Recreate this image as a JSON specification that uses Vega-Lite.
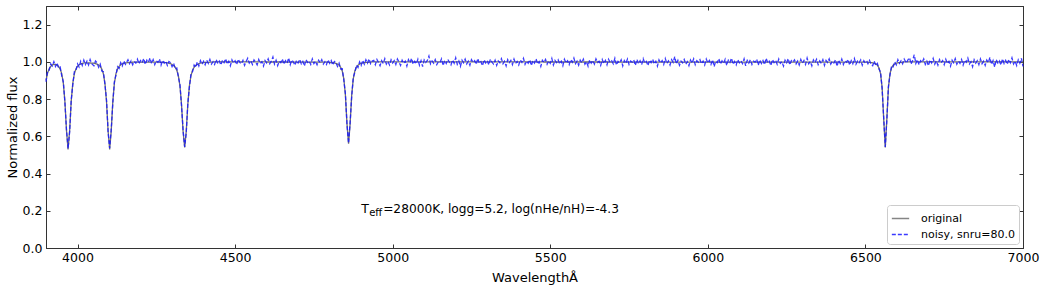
{
"$schema": "https://vega.github.io/schema/vega-lite/v6.json",
"width": 977, "height": 242,
"autosize": {"type": "none"},
"padding": {"left": 46, "top": 6, "right": 23, "bottom": 42},
"background": "white",
"config": {"view": {"stroke": "#333333", "strokeWidth": 1}, "font": "DejaVu Sans"},
"data": {"values": [
{"w":3900,"original":0.9,"noisy":0.893},{"w":3905,"original":0.94,"noisy":0.951},{"w":3910,"original":0.962,"noisy":0.955},{"w":3915,"original":0.976,"noisy":0.989},{"w":3920,"original":0.984,"noisy":0.978},
{"w":3925,"original":0.987,"noisy":1.001},{"w":3930,"original":0.986,"noisy":0.975},{"w":3935,"original":0.982,"noisy":0.994},{"w":3940,"original":0.975,"noisy":0.968},{"w":3945,"original":0.961,"noisy":0.972},
{"w":3950,"original":0.936,"noisy":0.925},{"w":3955,"original":0.885,"noisy":0.893},{"w":3960,"original":0.787,"noisy":0.781},{"w":3965,"original":0.63,"noisy":0.636},{"w":3970,"original":0.53,"noisy":0.534},
{"w":3975,"original":0.63,"noisy":0.624},{"w":3980,"original":0.787,"noisy":0.795},{"w":3985,"original":0.885,"noisy":0.877},{"w":3990,"original":0.936,"noisy":0.948},{"w":3995,"original":0.962,"noisy":0.953},
{"w":4000,"original":0.976,"noisy":0.989},{"w":4005,"original":0.984,"noisy":0.972},{"w":4010,"original":0.989,"noisy":1.003},{"w":4015,"original":0.992,"noisy":0.981},{"w":4020,"original":0.994,"noisy":1.009},
{"w":4025,"original":0.995,"noisy":0.986},{"w":4030,"original":0.995,"noisy":1.004},{"w":4035,"original":0.995,"noisy":0.983},{"w":4040,"original":0.994,"noisy":1.012},{"w":4045,"original":0.993,"noisy":0.99},
{"w":4052,"original":0.9925,"noisy":0.979},{"w":4057,"original":0.991,"noisy":1.004},{"w":4062,"original":0.988,"noisy":0.995},{"w":4067,"original":0.983,"noisy":0.971},{"w":4072,"original":0.976,"noisy":0.988},
{"w":4077,"original":0.962,"noisy":0.951},{"w":4082,"original":0.936,"noisy":0.947},{"w":4087,"original":0.885,"noisy":0.879},{"w":4092,"original":0.787,"noisy":0.796},{"w":4097,"original":0.63,"noisy":0.624},
{"w":4102,"original":0.53,"noisy":0.536},{"w":4107,"original":0.63,"noisy":0.637},{"w":4112,"original":0.787,"noisy":0.779},{"w":4117,"original":0.885,"noisy":0.894},{"w":4122,"original":0.936,"noisy":0.929},
{"w":4127,"original":0.962,"noisy":0.974},{"w":4132,"original":0.976,"noisy":0.965},{"w":4137,"original":0.984,"noisy":0.996},{"w":4142,"original":0.989,"noisy":0.978},{"w":4147,"original":0.992,"noisy":1.005},
{"w":4152,"original":0.994,"noisy":0.987},{"w":4160,"original":0.996,"noisy":1.011},{"w":4165,"original":0.9965,"noisy":0.99},{"w":4170,"original":0.9975,"noisy":1.006},{"w":4175,"original":0.998,"noisy":0.984},
{"w":4180,"original":0.998,"noisy":1.002},{"w":4185,"original":0.9985,"noisy":0.993},{"w":4190,"original":0.9985,"noisy":1.014},{"w":4195,"original":0.999,"noisy":0.989},{"w":4200,"original":0.999,"noisy":1.007},
{"w":4205,"original":0.999,"noisy":0.995},{"w":4210,"original":0.999,"noisy":1.018},{"w":4215,"original":0.999,"noisy":0.986},{"w":4220,"original":0.999,"noisy":1.009},{"w":4225,"original":0.999,"noisy":0.998},
{"w":4230,"original":0.999,"noisy":1.021},{"w":4235,"original":0.999,"noisy":0.991},{"w":4240,"original":0.999,"noisy":1.012},{"w":4245,"original":0.999,"noisy":0.985},{"w":4250,"original":0.999,"noisy":1.006},
{"w":4255,"original":0.999,"noisy":0.997},{"w":4260,"original":0.998,"noisy":1.015},{"w":4265,"original":0.9975,"noisy":0.982},{"w":4270,"original":0.997,"noisy":1.008},{"w":4275,"original":0.9965,"noisy":0.993},
{"w":4280,"original":0.996,"noisy":1.004},{"w":4285,"original":0.995,"noisy":0.981},{"w":4290,"original":0.993,"noisy":1.002},{"w":4295,"original":0.99,"noisy":0.996},{"w":4300,"original":0.986,"noisy":0.974},
{"w":4305,"original":0.981,"noisy":0.992},{"w":4310,"original":0.971,"noisy":0.962},{"w":4315,"original":0.955,"noisy":0.967},{"w":4320,"original":0.926,"noisy":0.918},{"w":4325,"original":0.871,"noisy":0.879},
{"w":4330,"original":0.771,"noisy":0.765},{"w":4335,"original":0.626,"noisy":0.632},{"w":4340,"original":0.54,"noisy":0.543},{"w":4345,"original":0.626,"noisy":0.619},{"w":4350,"original":0.771,"noisy":0.778},
{"w":4355,"original":0.871,"noisy":0.864},{"w":4360,"original":0.926,"noisy":0.935},{"w":4365,"original":0.955,"noisy":0.947},{"w":4370,"original":0.971,"noisy":0.983},{"w":4375,"original":0.981,"noisy":0.97},
{"w":4380,"original":0.986,"noisy":0.999},{"w":4385,"original":0.99,"noisy":0.978},{"w":4390,"original":0.993,"noisy":1.006},{"w":4395,"original":0.995,"noisy":0.987},{"w":4400,"original":0.996,"noisy":1.003},
{"w":4405,"original":0.9965,"noisy":0.984},{"w":4410,"original":0.997,"noisy":1.009},{"w":4415,"original":0.9975,"noisy":0.992},{"w":4420,"original":0.998,"noisy":1.013},{"w":4425,"original":0.9985,"noisy":0.988},
{"w":4430,"original":0.999,"noisy":1.001},{"w":4435,"original":1.0,"noisy":0.986},
{"w":4440,"noisy":1.012},{"w":4445,"noisy":0.991},{"w":4450,"noisy":1.004},{"w":4455,"noisy":0.983},{"w":4460,"noisy":1.009},{"w":4465,"noisy":0.996},{"w":4470,"noisy":1.017},{"w":4475,"noisy":0.988},{"w":4480,"noisy":1.003},{"w":4485,"noisy":0.979},
{"w":4490,"noisy":1.011},{"w":4495,"noisy":0.994},{"w":4500,"noisy":1.006},{"w":4505,"noisy":0.985},{"w":4510,"noisy":1.014},{"w":4515,"noisy":0.997},{"w":4520,"noisy":0.989},{"w":4525,"noisy":1.008},{"w":4530,"noisy":0.981},{"w":4535,"noisy":1.002},
{"w":4540,"noisy":1.019},{"w":4545,"noisy":0.993},{"w":4550,"noisy":1.005},{"w":4555,"noisy":0.986},{"w":4560,"noisy":1.01},{"w":4565,"noisy":0.998},{"w":4570,"noisy":0.984},{"w":4575,"noisy":1.013},{"w":4580,"noisy":0.992},{"w":4585,"noisy":1.001},
{"w":4590,"noisy":0.977},{"w":4595,"noisy":1.007},{"w":4600,"noisy":0.995},{"w":4605,"noisy":1.016},{"w":4610,"noisy":0.99},{"w":4615,"noisy":1.004},{"w":4620,"noisy":1.026},{"w":4625,"noisy":0.988},{"w":4630,"noisy":1.009},{"w":4635,"noisy":0.98},
{"w":4640,"noisy":1.003},{"w":4645,"noisy":0.996},{"w":4650,"noisy":1.015},{"w":4655,"noisy":0.987},{"w":4660,"noisy":1.006},{"w":4665,"noisy":0.993},{"w":4670,"noisy":1.021},{"w":4675,"noisy":0.985},{"w":4680,"noisy":1.01},{"w":4685,"noisy":0.999},
{"w":4690,"noisy":0.982},{"w":4695,"noisy":1.008},{"w":4700,"noisy":0.994},{"w":4705,"noisy":1.013},{"w":4710,"noisy":0.989},{"w":4715,"noisy":1.002},{"w":4720,"noisy":0.978},{"w":4725,"noisy":1.011},{"w":4730,"noisy":0.997},{"w":4735,"noisy":1.005},
{"w":4740,"noisy":0.986},{"w":4745,"noisy":1.016},{"w":4750,"noisy":0.991},{"w":4755,"noisy":1.003},{"w":4760,"noisy":0.984},{"w":4765,"noisy":1.009},{"w":4770,"noisy":0.995},{"w":4775,"noisy":1.012},{"w":4780,"noisy":0.988},{"w":4785,"noisy":1.001},
{"w":4790,"original":0.9985,"noisy":0.986},{"w":4795,"original":0.998,"noisy":1.01},{"w":4800,"original":0.9975,"noisy":0.992},{"w":4805,"original":0.9965,"noisy":1.007},{"w":4810,"original":0.9956,"noisy":0.983},
{"w":4815,"original":0.994,"noisy":1.002},{"w":4820,"original":0.992,"noisy":0.996},{"w":4825,"original":0.988,"noisy":0.975},{"w":4830,"original":0.982,"noisy":0.993},{"w":4835,"original":0.971,"noisy":0.962},
{"w":4840,"original":0.951,"noisy":0.963},{"w":4845,"original":0.909,"noisy":0.901},{"w":4850,"original":0.822,"noisy":0.829},{"w":4855,"original":0.668,"noisy":0.663},{"w":4860,"original":0.56,"noisy":0.563},
{"w":4865,"original":0.668,"noisy":0.674},{"w":4870,"original":0.822,"noisy":0.815},{"w":4875,"original":0.909,"noisy":0.917},{"w":4880,"original":0.951,"noisy":0.944},{"w":4885,"original":0.971,"noisy":0.982},
{"w":4890,"original":0.982,"noisy":0.97},{"w":4895,"original":0.988,"noisy":1.0},{"w":4900,"original":0.992,"noisy":0.981},{"w":4905,"original":0.994,"noisy":1.008},{"w":4910,"original":0.9956,"noisy":0.987},
{"w":4915,"original":0.9965,"noisy":1.011},{"w":4920,"original":0.9975,"noisy":0.993},{"w":4925,"original":0.998,"noisy":1.016},{"w":4930,"original":0.9985,"noisy":0.99},{"w":4935,"original":1.0,"noisy":1.004},
{"w":4940,"noisy":1.008},{"w":4945,"noisy":0.985},{"w":4950,"noisy":1.013},{"w":4955,"noisy":0.996},{"w":4960,"noisy":0.979},{"w":4965,"noisy":1.006},{"w":4970,"noisy":0.991},{"w":4975,"noisy":1.017},{"w":4980,"noisy":0.988},{"w":4985,"noisy":1.002},
{"w":4990,"noisy":0.983},{"w":4995,"noisy":1.011},{"w":5000,"noisy":0.994},{"w":5005,"noisy":1.007},{"w":5010,"noisy":0.986},{"w":5015,"noisy":1.015},{"w":5020,"noisy":0.999},{"w":5025,"noisy":0.981},{"w":5030,"noisy":1.009},{"w":5035,"noisy":0.992},
{"w":5040,"noisy":1.004},{"w":5045,"noisy":0.977},{"w":5050,"noisy":1.012},{"w":5055,"noisy":0.995},{"w":5060,"noisy":1.019},{"w":5065,"noisy":0.987},{"w":5070,"noisy":1.003},{"w":5075,"noisy":0.99},{"w":5080,"noisy":1.014},{"w":5085,"noisy":0.982},
{"w":5090,"noisy":1.006},{"w":5095,"noisy":0.974},{"w":5100,"noisy":1.01},{"w":5105,"noisy":0.997},{"w":5110,"noisy":1.008},{"w":5115,"noisy":1.031},{"w":5120,"noisy":0.989},{"w":5125,"noisy":1.005},{"w":5130,"noisy":0.993},{"w":5135,"noisy":1.012},
{"w":5140,"noisy":0.985},{"w":5145,"noisy":1.001},{"w":5150,"noisy":0.996},{"w":5155,"noisy":1.016},{"w":5160,"noisy":0.98},{"w":5165,"noisy":1.007},{"w":5170,"noisy":0.991},{"w":5175,"noisy":1.013},{"w":5180,"noisy":0.998},{"w":5185,"noisy":0.984},
{"w":5190,"noisy":1.01},{"w":5195,"noisy":0.993},{"w":5200,"noisy":1.022},{"w":5205,"noisy":0.987},{"w":5210,"noisy":1.004},{"w":5215,"noisy":0.976},{"w":5220,"noisy":1.009},{"w":5225,"noisy":0.995},{"w":5230,"noisy":1.015},{"w":5235,"noisy":0.989},
{"w":5240,"noisy":1.003},{"w":5245,"noisy":0.982},{"w":5250,"noisy":1.012},{"w":5255,"noisy":0.997},{"w":5260,"noisy":1.006},{"w":5265,"noisy":0.986},{"w":5270,"noisy":1.018},{"w":5275,"noisy":0.992},{"w":5280,"noisy":1.001},{"w":5285,"noisy":0.979},
{"w":5290,"noisy":1.011},{"w":5295,"noisy":0.994},{"w":5300,"noisy":1.007},{"w":5305,"noisy":0.984},{"w":5310,"noisy":1.014},{"w":5315,"noisy":0.998},{"w":5320,"noisy":0.988},{"w":5325,"noisy":1.009},{"w":5330,"noisy":0.981},{"w":5335,"noisy":1.005},
{"w":5340,"noisy":0.995},{"w":5345,"noisy":1.017},{"w":5350,"noisy":0.99},{"w":5355,"noisy":1.003},{"w":5360,"noisy":0.978},{"w":5365,"noisy":1.012},{"w":5370,"noisy":0.996},{"w":5375,"noisy":1.008},{"w":5380,"noisy":0.985},{"w":5385,"noisy":1.015},
{"w":5390,"noisy":0.991},{"w":5395,"noisy":1.002},{"w":5400,"noisy":0.983},{"w":5405,"noisy":1.01},{"w":5410,"noisy":0.997},{"w":5415,"noisy":1.019},{"w":5420,"noisy":0.986},{"w":5425,"noisy":1.004},{"w":5430,"noisy":0.993},{"w":5435,"noisy":1.011},
{"w":5440,"noisy":0.98},{"w":5445,"noisy":1.007},{"w":5450,"noisy":0.994},{"w":5455,"noisy":1.016},{"w":5460,"noisy":0.988},{"w":5465,"noisy":1.001},{"w":5470,"noisy":0.975},{"w":5475,"noisy":1.009},{"w":5480,"noisy":0.997},{"w":5485,"noisy":1.013},
{"w":5490,"noisy":0.987},{"w":5495,"noisy":1.005},{"w":5500,"noisy":0.992},{"w":5505,"noisy":1.018},{"w":5510,"noisy":0.983},{"w":5515,"noisy":1.008},{"w":5520,"noisy":0.996},{"w":5525,"noisy":1.011},{"w":5530,"noisy":0.989},{"w":5535,"noisy":1.003},
{"w":5540,"noisy":0.979},{"w":5545,"noisy":1.014},{"w":5550,"noisy":0.994},{"w":5555,"noisy":1.006},{"w":5560,"noisy":0.985},{"w":5565,"noisy":1.012},{"w":5570,"noisy":0.998},{"w":5575,"noisy":1.02},{"w":5580,"noisy":0.99},{"w":5585,"noisy":1.004},
{"w":5590,"noisy":0.982},{"w":5595,"noisy":1.009},{"w":5600,"noisy":0.995},{"w":5605,"noisy":1.015},{"w":5610,"noisy":0.987},{"w":5615,"noisy":1.001},{"w":5620,"noisy":0.976},{"w":5625,"noisy":1.01},{"w":5630,"noisy":0.993},{"w":5635,"noisy":1.007},
{"w":5640,"noisy":0.988},{"w":5645,"noisy":1.016},{"w":5650,"noisy":0.997},{"w":5655,"noisy":1.003},{"w":5660,"noisy":0.981},{"w":5665,"noisy":1.012},{"w":5670,"noisy":0.991},{"w":5675,"noisy":1.008},{"w":5680,"noisy":0.984},{"w":5685,"noisy":1.014},
{"w":5690,"noisy":0.996},{"w":5695,"noisy":1.005},{"w":5700,"noisy":0.989},{"w":5705,"noisy":1.019},{"w":5710,"noisy":0.983},{"w":5715,"noisy":1.002},{"w":5720,"noisy":0.994},{"w":5725,"noisy":1.011},{"w":5730,"noisy":0.978},{"w":5735,"noisy":1.007},
{"w":5740,"noisy":0.992},{"w":5745,"noisy":1.015},{"w":5750,"noisy":0.986},{"w":5755,"noisy":1.004},{"w":5760,"noisy":0.998},{"w":5765,"noisy":1.01},{"w":5770,"noisy":0.981},{"w":5775,"noisy":1.013},{"w":5780,"noisy":0.99},{"w":5785,"noisy":1.006},
{"w":5790,"noisy":0.985},{"w":5795,"noisy":1.017},{"w":5800,"noisy":0.993},{"w":5805,"noisy":1.002},{"w":5810,"noisy":0.98},{"w":5815,"noisy":1.009},{"w":5820,"noisy":0.996},{"w":5825,"noisy":1.014},{"w":5830,"noisy":0.988},{"w":5835,"noisy":1.003},
{"w":5840,"noisy":0.977},{"w":5845,"noisy":1.011},{"w":5850,"noisy":0.994},{"w":5855,"noisy":1.007},{"w":5860,"noisy":0.986},{"w":5865,"noisy":1.018},{"w":5870,"noisy":0.991},{"w":5875,"noisy":1.005},{"w":5880,"noisy":0.983},{"w":5885,"noisy":1.012},
{"w":5890,"noisy":0.997},{"w":5895,"noisy":1.028},{"w":5900,"noisy":0.989},{"w":5905,"noisy":1.008},{"w":5910,"noisy":0.982},{"w":5915,"noisy":1.004},{"w":5920,"noisy":0.995},{"w":5925,"noisy":1.013},{"w":5930,"noisy":0.987},{"w":5935,"noisy":1.001},
{"w":5940,"noisy":0.979},{"w":5945,"noisy":1.01},{"w":5950,"noisy":0.993},{"w":5955,"noisy":1.016},{"w":5960,"noisy":0.985},{"w":5965,"noisy":1.006},{"w":5970,"noisy":0.998},{"w":5975,"noisy":1.012},{"w":5980,"noisy":0.99},{"w":5985,"noisy":1.004},
{"w":5990,"noisy":0.983},{"w":5995,"noisy":1.015},{"w":6000,"noisy":0.994},{"w":6005,"noisy":1.008},{"w":6010,"noisy":0.986},{"w":6015,"noisy":1.011},{"w":6020,"noisy":0.975},{"w":6025,"noisy":1.003},{"w":6030,"noisy":0.996},{"w":6035,"noisy":1.017},
{"w":6040,"noisy":0.988},{"w":6045,"noisy":1.005},{"w":6050,"noisy":0.992},{"w":6055,"noisy":1.013},{"w":6060,"noisy":0.981},{"w":6065,"noisy":1.009},{"w":6070,"noisy":0.997},{"w":6075,"noisy":1.02},{"w":6080,"noisy":0.987},{"w":6085,"noisy":1.002},
{"w":6090,"noisy":0.984},{"w":6095,"noisy":1.012},{"w":6100,"noisy":0.995},{"w":6105,"noisy":1.006},{"w":6110,"noisy":0.99},{"w":6115,"noisy":1.016},{"w":6120,"noisy":0.978},{"w":6125,"noisy":1.008},{"w":6130,"noisy":0.993},{"w":6135,"noisy":1.011},
{"w":6140,"noisy":0.986},{"w":6145,"noisy":1.004},{"w":6150,"noisy":0.999},{"w":6155,"noisy":1.014},{"w":6160,"noisy":0.982},{"w":6165,"noisy":1.01},{"w":6170,"noisy":0.991},{"w":6175,"noisy":1.007},{"w":6180,"noisy":0.985},{"w":6185,"noisy":1.019},
{"w":6190,"noisy":0.994},{"w":6195,"noisy":1.003},{"w":6200,"noisy":0.98},{"w":6205,"noisy":1.012},{"w":6210,"noisy":0.996},{"w":6215,"noisy":1.008},{"w":6220,"noisy":0.987},{"w":6225,"noisy":1.015},{"w":6230,"noisy":0.992},{"w":6235,"noisy":1.001},
{"w":6240,"noisy":0.977},{"w":6245,"noisy":1.009},{"w":6250,"noisy":0.995},{"w":6255,"noisy":1.017},{"w":6260,"noisy":0.984},{"w":6265,"noisy":1.006},{"w":6270,"noisy":0.998},{"w":6275,"noisy":1.011},{"w":6280,"noisy":0.989},{"w":6285,"noisy":1.004},
{"w":6290,"noisy":0.983},{"w":6295,"noisy":1.013},{"w":6300,"noisy":0.993},{"w":6305,"noisy":1.007},{"w":6310,"noisy":0.986},{"w":6315,"noisy":1.02},{"w":6320,"noisy":0.99},{"w":6325,"noisy":1.002},{"w":6330,"noisy":0.979},{"w":6335,"noisy":1.01},
{"w":6340,"noisy":0.996},{"w":6345,"noisy":1.014},{"w":6350,"noisy":0.985},{"w":6355,"noisy":1.005},{"w":6360,"noisy":0.992},{"w":6365,"noisy":1.012},{"w":6370,"noisy":0.981},{"w":6375,"noisy":1.008},{"w":6380,"noisy":0.997},{"w":6385,"noisy":1.016},
{"w":6390,"noisy":0.988},{"w":6395,"noisy":1.003},{"w":6400,"noisy":0.994},{"w":6405,"noisy":1.011},{"w":6410,"noisy":0.976},{"w":6415,"noisy":1.009},{"w":6420,"noisy":0.991},{"w":6425,"noisy":1.015},{"w":6430,"noisy":0.986},{"w":6435,"noisy":1.006},
{"w":6440,"noisy":0.998},{"w":6445,"noisy":1.013},{"w":6450,"noisy":0.983},{"w":6455,"noisy":1.007},{"w":6460,"noisy":0.99},{"w":6465,"noisy":1.018},{"w":6470,"noisy":0.987},{"w":6475,"noisy":1.004},{"w":6480,"noisy":0.995},{"w":6485,"noisy":1.01},
{"w":6490,"noisy":0.982},{"w":6495,"noisy":1.006},{"w":6500,"noisy":0.993},{"w":6505,"noisy":1.001},
{"w":6508,"original":0.998,"noisy":0.99},{"w":6513,"original":0.9975,"noisy":1.008},{"w":6518,"original":0.996,"noisy":0.985},{"w":6523,"original":0.995,"noisy":0.979},{"w":6528,"original":0.993,"noisy":1.004},
{"w":6533,"original":0.989,"noisy":0.98},{"w":6538,"original":0.982,"noisy":0.991},{"w":6543,"original":0.968,"noisy":0.962},{"w":6548,"original":0.937,"noisy":0.945},{"w":6553,"original":0.862,"noisy":0.856},
{"w":6558,"original":0.693,"noisy":0.699},{"w":6563,"original":0.54,"noisy":0.543},{"w":6568,"original":0.693,"noisy":0.688},{"w":6573,"original":0.862,"noisy":0.869},{"w":6578,"original":0.937,"noisy":0.93},
{"w":6583,"original":0.968,"noisy":0.978},{"w":6588,"original":0.982,"noisy":0.973},{"w":6593,"original":0.989,"noisy":1.0},{"w":6598,"original":0.993,"noisy":0.984},{"w":6603,"original":0.995,"noisy":1.012},
{"w":6608,"original":0.996,"noisy":0.992},{"w":6613,"original":0.9975,"noisy":1.006},{"w":6618,"original":0.998,"noisy":0.989},{"w":6623,"original":1.0,"noisy":1.015},
{"w":6630,"noisy":0.993},{"w":6635,"noisy":1.011},{"w":6640,"noisy":1.022},{"w":6645,"noisy":0.988},{"w":6650,"noisy":1.009},{"w":6655,"noisy":1.038},{"w":6660,"noisy":0.991},{"w":6665,"noisy":1.012},{"w":6670,"noisy":0.984},{"w":6675,"noisy":1.006},
{"w":6680,"noisy":0.997},{"w":6685,"noisy":1.016},{"w":6690,"noisy":0.986},{"w":6695,"noisy":1.003},{"w":6700,"noisy":0.979},{"w":6705,"noisy":1.01},{"w":6710,"noisy":0.994},{"w":6715,"noisy":1.018},{"w":6720,"noisy":0.988},{"w":6725,"noisy":1.005},
{"w":6730,"noisy":0.982},{"w":6735,"noisy":1.012},{"w":6740,"noisy":0.996},{"w":6745,"noisy":1.007},{"w":6750,"noisy":0.985},{"w":6755,"noisy":1.014},{"w":6760,"noisy":0.991},{"w":6765,"noisy":1.002},{"w":6770,"noisy":0.977},{"w":6775,"noisy":1.009},
{"w":6780,"noisy":0.995},{"w":6785,"noisy":1.017},{"w":6790,"noisy":0.987},{"w":6795,"noisy":1.004},{"w":6800,"noisy":0.992},{"w":6805,"noisy":1.013},{"w":6810,"noisy":0.983},{"w":6815,"noisy":1.008},{"w":6820,"noisy":0.998},{"w":6825,"noisy":1.02},
{"w":6830,"noisy":0.989},{"w":6835,"noisy":1.001},{"w":6840,"noisy":0.974},{"w":6845,"noisy":1.011},{"w":6850,"noisy":0.993},{"w":6855,"noisy":1.006},{"w":6860,"noisy":0.985},{"w":6865,"noisy":1.015},{"w":6870,"noisy":0.99},{"w":6875,"noisy":1.003},
{"w":6880,"noisy":0.981},{"w":6885,"noisy":1.01},{"w":6890,"noisy":0.996},{"w":6895,"noisy":1.024},{"w":6900,"noisy":0.986},{"w":6905,"noisy":1.007},{"w":6910,"noisy":0.972},{"w":6915,"noisy":1.012},{"w":6920,"noisy":0.994},{"w":6925,"noisy":1.005},
{"w":6930,"noisy":0.983},{"w":6935,"noisy":1.016},{"w":6940,"noisy":0.991},{"w":6945,"noisy":1.008},{"w":6950,"noisy":0.987},{"w":6955,"noisy":1.013},{"w":6960,"noisy":0.995},{"w":6965,"noisy":1.021},{"w":6970,"noisy":0.988},{"w":6975,"noisy":1.004},
{"w":6980,"noisy":0.98},{"w":6985,"noisy":1.011},{"w":6990,"noisy":0.993},{"w":6995,"noisy":1.019},{"w":7000,"original":1.0,"noisy":0.975}
]},
"transform": [{"fold": ["original", "noisy"], "as": ["series", "flux"]}],
"layer": [
{
"transform": [{"filter": "datum.series == 'original' && isValid(datum.flux)"}],
"mark": {"type": "line", "strokeWidth": 1.3, "invalid": "filter"},
"encoding": {
"x": {"field": "w", "type": "quantitative", "scale": {"domain": [3900, 7000], "nice": false, "zero": false},
"axis": {"title": "WavelengthÅ", "values": [4000, 4500, 5000, 5500, 6000, 6500, 7000], "format": "d", "tickSize": -4, "labelPadding": 7, "labelFontSize": 12.5, "labelColor": "black", "labelFont": "DejaVu Sans", "labelFlush": false, "labelOverlap": false, "titleFont": "DejaVu Sans", "titleFontSize": 13, "titleFontWeight": "normal", "titleColor": "black", "titleY": 33, "titleBaseline": "alphabetic", "grid": false, "domainColor": "#333333", "tickColor": "#333333"}},
"y": {"field": "flux", "type": "quantitative", "scale": {"domain": [0, 1.3], "nice": false, "zero": false},
"axis": {"title": "Normalized flux", "values": [0, 0.2, 0.4, 0.6, 0.8, 1.0, 1.2], "format": ".1f", "tickSize": -4, "labelPadding": 8, "labelFontSize": 12.5, "labelColor": "black", "labelFont": "DejaVu Sans", "labelFlush": false, "labelOverlap": false, "titleFont": "DejaVu Sans", "titleFontSize": 13, "titleFontWeight": "normal", "titleColor": "black", "titleX": -34, "titleY": 121, "titleBaseline": "middle", "titleAlign": "center", "grid": false, "domainColor": "#333333", "tickColor": "#333333"}},
"color": {"field": "series", "type": "nominal", "scale": {"domain": ["original", "noisy"], "range": ["#707070", "#1818ff"]},
"legend": {"orient": "bottom-right", "offset": 4, "title": null, "padding": 4, "strokeColor": "#cccccc", "fillColor": "white", "cornerRadius": 3, "symbolType": "stroke", "symbolSize": 300, "symbolStrokeWidth": 1.5, "labelFontSize": 11, "labelFont": "DejaVu Sans", "labelColor": "black", "labelOffset": 11, "rowPadding": 1, "labelExpr": "datum.label == 'noisy' ? 'noisy, snru=80.0' : datum.label"}},
"strokeDash": {"field": "series", "type": "nominal", "scale": {"domain": ["original", "noisy"], "range": [[1, 0], [4, 2]]},
"legend": {"orient": "bottom-right", "offset": 4, "title": null, "padding": 4, "strokeColor": "#cccccc", "fillColor": "white", "cornerRadius": 3, "symbolType": "stroke", "symbolSize": 300, "symbolStrokeWidth": 1.5, "labelFontSize": 11, "labelFont": "DejaVu Sans", "labelColor": "black", "labelOffset": 11, "rowPadding": 1, "labelExpr": "datum.label == 'noisy' ? 'noisy, snru=80.0' : datum.label"}}
}
},
{
"transform": [{"filter": "datum.series == 'noisy' && isValid(datum.flux)"}],
"mark": {"type": "line", "strokeWidth": 1.3, "opacity": 0.85, "invalid": "filter"},
"encoding": {
"x": {"field": "w", "type": "quantitative", "axis": null},
"y": {"field": "flux", "type": "quantitative", "axis": null},
"color": {"field": "series", "type": "nominal"},
"strokeDash": {"field": "series", "type": "nominal"}
}
},
{
"data": {"values": [{}]},
"mark": {"type": "point", "opacity": 0},
"encoding": {
"x": {"datum": 5000, "type": "quantitative", "axis": {"orient": "top", "labels": false, "title": null, "values": [4000, 4500, 5000, 5500, 6000, 6500, 7000], "tickSize": -4, "grid": false, "domainColor": "#333333", "tickColor": "#333333"}},
"y": {"datum": 0.5, "type": "quantitative", "axis": {"orient": "right", "labels": false, "title": null, "values": [0, 0.2, 0.4, 0.6, 0.8, 1.0, 1.2], "tickSize": -4, "grid": false, "domainColor": "#333333", "tickColor": "#333333"}}
}
},
{
"data": {"values": [{}]},
"mark": {"type": "text", "text": "T", "align": "left", "baseline": "alphabetic", "font": "DejaVu Sans", "fontSize": 12.5, "color": "black"},
"encoding": {"x": {"datum": 4900, "type": "quantitative", "axis": null}, "y": {"datum": 0.19, "type": "quantitative", "axis": null}}
},
{
"data": {"values": [{}]},
"mark": {"type": "text", "text": "eff", "align": "left", "baseline": "alphabetic", "font": "DejaVu Sans", "fontSize": 10, "dx": 8, "dy": 3, "color": "black"},
"encoding": {"x": {"datum": 4900, "type": "quantitative", "axis": null}, "y": {"datum": 0.19, "type": "quantitative", "axis": null}}
},
{
"data": {"values": [{}]},
"mark": {"type": "text", "text": "=28000K, logg=5.2, log(nHe/nH)=-4.3", "align": "left", "baseline": "alphabetic", "font": "DejaVu Sans", "fontSize": 12.2, "dx": 22, "color": "black"},
"encoding": {"x": {"datum": 4900, "type": "quantitative", "axis": null}, "y": {"datum": 0.19, "type": "quantitative", "axis": null}}
}
],
"resolve": {"axis": {"x": "independent", "y": "independent"}}
}
